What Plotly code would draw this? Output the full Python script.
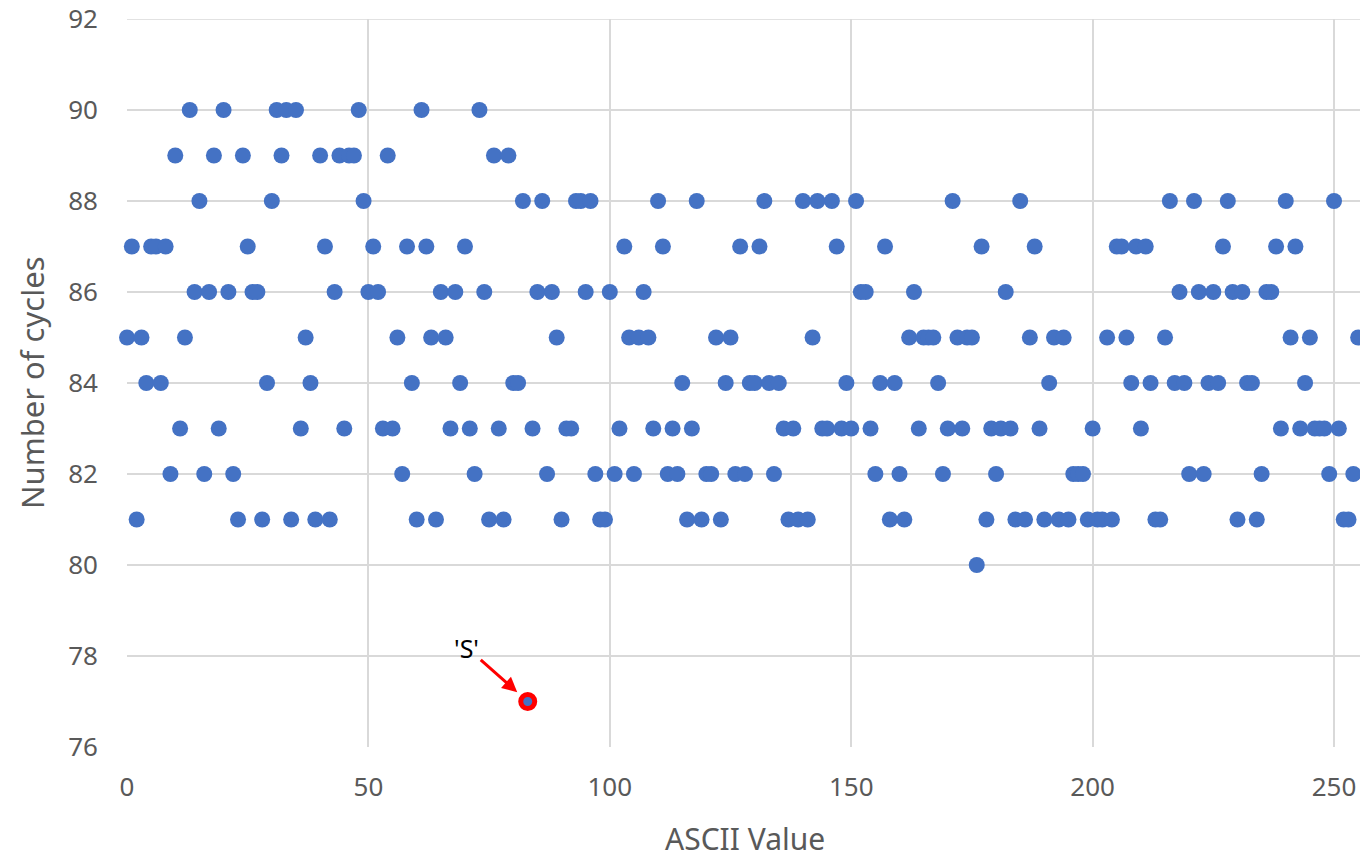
import plotly.graph_objects as go

ascii_values = list(range(256))
cycles = [
    85, 87, 81, 85, 84, 87, 87, 84, 87, 82,   # 0-9
    89, 83, 85, 90, 86, 88, 82, 86, 89, 83,   # 10-19
    90, 86, 82, 81, 89, 87, 86, 86, 81, 84,   # 20-29
    88, 90, 89, 90, 81, 90, 83, 85, 84, 81,   # 30-39
    89, 87, 81, 86, 89, 83, 89, 89, 90, 88,   # 40-49
    86, 87, 86, 83, 89, 83, 85, 82, 87, 84,   # 50-59
    81, 90, 87, 85, 81, 86, 85, 83, 86, 84,   # 60-69
    87, 83, 82, 90, 86, 81, 89, 83, 81, 89,   # 70-79
    84, 84, 88, 77, 83, 86, 88, 82, 86, 85,   # 80-89
    81, 83, 83, 88, 88, 86, 88, 82, 81, 81,   # 90-99
    86, 82, 83, 87, 85, 82, 85, 86, 85, 83,   # 100-109
    88, 87, 82, 83, 82, 84, 81, 83, 88, 81,   # 110-119
    82, 82, 85, 81, 84, 85, 82, 87, 82, 84,   # 120-129
    84, 87, 88, 84, 82, 84, 83, 81, 83, 81,   # 130-139
    88, 81, 85, 88, 83, 83, 88, 87, 83, 84,   # 140-149
    83, 88, 86, 86, 83, 82, 84, 87, 81, 84,   # 150-159
    82, 81, 85, 86, 83, 85, 85, 85, 84, 82,   # 160-169
    83, 88, 85, 83, 85, 85, 80, 87, 81, 83,   # 170-179
    82, 83, 86, 83, 81, 88, 81, 85, 87, 83,   # 180-189
    81, 84, 85, 81, 85, 81, 82, 82, 82, 81,   # 190-199
    83, 81, 81, 85, 81, 87, 87, 85, 84, 87,   # 200-209
    83, 87, 84, 81, 81, 85, 88, 84, 86, 84,   # 210-219
    82, 88, 86, 82, 84, 86, 84, 87, 88, 86,   # 220-229
    81, 86, 84, 84, 81, 82, 86, 86, 87, 83,   # 230-239
    88, 85, 87, 83, 84, 85, 83, 83, 83, 82,   # 240-249
    88, 83, 81, 81, 82, 85,                   # 250-255
]
highlight_char = "'S'"
highlight_x = 83
highlight_y = cycles[highlight_x]

x_ticks = [0, 50, 100, 150, 200, 250]
y_ticks = [76, 78, 80, 82, 84, 86, 88, 90, 92]
x_title = "ASCII Value"
y_title = "Number of cycles"

FONT = "Noto Sans"
GRAY = "#595959"
GRID = "#D9D9D9"

fig = go.Figure()
# top gridline (plotly drops a gridline that sits exactly on the plot edge)
fig.add_shape(type="line", xref="paper", yref="y", x0=0, x1=1,
              y0=y_ticks[-1], y1=y_ticks[-1],
              line=dict(color=GRID, width=1.5), layer="below")
fig.add_trace(go.Scatter(
    x=ascii_values, y=cycles, mode="markers",
    marker=dict(color="#4472C4", size=16),
    showlegend=False, cliponaxis=False,
))
fig.add_trace(go.Scatter(
    x=[highlight_x], y=[highlight_y], mode="markers",
    marker=dict(color="#4472C4", size=14, line=dict(color="#FF0000", width=5)),
    showlegend=False, cliponaxis=False,
))
fig.add_annotation(
    x=highlight_x, y=highlight_y, xref="x", yref="y",
    text=highlight_char, showarrow=True,
    ax=-61, ay=-54, arrowcolor="#FF0000", arrowwidth=3, arrowhead=2,
    arrowsize=1, standoff=14,
    font=dict(family=FONT, size=25, color="#000000"),
)
fig.add_annotation(
    x=0.5, y=0, xref="paper", yref="paper", text=x_title, showarrow=False,
    xanchor="center", yanchor="middle", yshift=-91,
    font=dict(family=FONT, size=30, color=GRAY),
)
fig.add_annotation(
    x=0, y=0.5, xref="paper", yref="paper", text=y_title, showarrow=False,
    xanchor="center", yanchor="middle", xshift=-95, textangle=-90,
    font=dict(family=FONT, size=31, color=GRAY),
)

# page body adds an 8px offset; margins compensate for it
fig.update_layout(
    width=1368, height=857,
    margin=dict(l=119, r=13, t=11, b=118),
    paper_bgcolor="white", plot_bgcolor="white",
    font=dict(family=FONT, color=GRAY),
    xaxis=dict(
        range=[0, 256], tickvals=x_ticks, showgrid=True, gridcolor=GRID,
        gridwidth=1.5, zeroline=False, showline=False, ticks="",
        automargin=False, ticklabelstandoff=22, ticklabeloverflow="allow",
        tickfont=dict(size=26, color=GRAY),
    ),
    yaxis=dict(
        range=[76, 92], tickvals=y_ticks, showgrid=True, gridcolor=GRID,
        gridwidth=1.5, zeroline=False, showline=False, ticks="",
        automargin=False, ticklabelstandoff=28, ticklabeloverflow="allow",
        tickfont=dict(size=26, color=GRAY),
    ),
)

fig.write_html("out.html")
